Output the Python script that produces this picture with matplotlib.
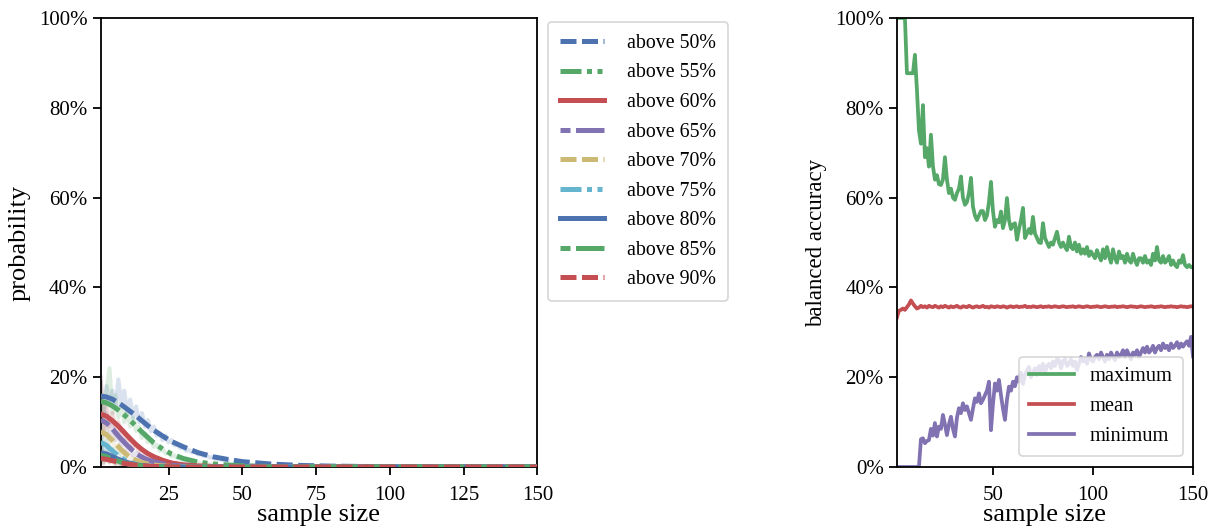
import numpy as np
import matplotlib
matplotlib.use('Agg')
from matplotlib import pyplot as plt
from matplotlib.ticker import PercentFormatter

plt.rcParams['font.family'] = ['Liberation Serif', 'DejaVu Serif']

# ---------------------------------------------------------------------------
# colours / labels
# ---------------------------------------------------------------------------
deep = ['#4C72B0', '#55A868', '#C44E52', '#8172B2', '#CCB974', '#64B5CD']
labels = ['above 50%', 'above 55%', 'above 60%', 'above 65%', 'above 70%',
          'above 75%', 'above 80%', 'above 85%', 'above 90%']

# ---------------------------------------------------------------------------
# left panel: smoothed probability curves (in %)
# ---------------------------------------------------------------------------
x_fit = [2, 4, 6, 8, 10, 12, 14, 16, 18, 20, 23, 26, 30, 35, 40, 45, 50,
         60, 70, 80, 100, 150]
fit_50 = [15.8, 15.6, 15.1, 14.3, 13.4, 12.4, 11.4, 10.3, 9.2, 8.2, 6.9, 5.7,
          4.5, 3.2, 2.3, 1.7, 1.2, 0.65, 0.35, 0.2, 0.06, 0.0]
fit_55 = [14.6, 14.3, 13.6, 12.7, 11.6, 10.4, 9.1, 7.8, 6.6, 5.4, 4.0, 2.9,
          1.9, 1.1, 0.7, 0.45, 0.3, 0.12, 0.05, 0.02, 0.0, 0.0]
fit_60 = [11.8, 11.3, 10.3, 9.1, 7.7, 6.3, 5.0, 3.9, 3.0, 2.3, 1.5, 0.9,
          0.5, 0.25, 0.12, 0.06, 0.03, 0.0, 0.0, 0.0, 0.0, 0.0]
fit_65 = [10.5, 9.8, 8.5, 6.9, 5.5, 4.2, 3.0, 2.2, 1.6, 1.2, 0.7, 0.4,
          0.2, 0.1, 0.05, 0.0, 0.0, 0.0, 0.0, 0.0, 0.0, 0.0]
fit_70 = [7.9, 7.2, 5.9, 4.5, 3.2, 2.2, 1.5, 1.0, 0.7, 0.45, 0.25, 0.14,
          0.07, 0.03, 0.0, 0.0, 0.0, 0.0, 0.0, 0.0, 0.0, 0.0]
fit_75 = [5.5, 4.8, 3.6, 2.5, 1.6, 1.0, 0.6, 0.35, 0.2, 0.12, 0.06, 0.03,
          0.0, 0.0, 0.0, 0.0, 0.0, 0.0, 0.0, 0.0, 0.0, 0.0]
fit_80 = [3.2, 2.9, 2.3, 1.7, 1.2, 0.8, 0.5, 0.3, 0.2, 0.12, 0.06, 0.03,
          0.0, 0.0, 0.0, 0.0, 0.0, 0.0, 0.0, 0.0, 0.0, 0.0]
fit_85 = [2.6, 2.3, 1.8, 1.3, 0.9, 0.6, 0.4, 0.25, 0.15, 0.1, 0.05, 0.02,
          0.0, 0.0, 0.0, 0.0, 0.0, 0.0, 0.0, 0.0, 0.0, 0.0]
fit_90 = [1.9, 1.7, 1.4, 1.1, 0.8, 0.6, 0.4, 0.3, 0.2, 0.13, 0.07, 0.04,
          0.0, 0.0, 0.0, 0.0, 0.0, 0.0, 0.0, 0.0, 0.0, 0.0]
fits = [fit_50, fit_55, fit_60, fit_65, fit_70, fit_75, fit_80, fit_85, fit_90]

# raw (noisy) probabilities, starting at sample size 2
raw_50 = [19, 12, 18, 14, 17, 13, 19.5, 14, 17, 12, 15, 11, 13.5, 10, 12, 9,
          10.5, 8, 9, 7, 7.5, 6, 7, 5.5, 6, 4.8, 5, 4.2, 4.5, 3.6, 3.8, 3.2,
          3.3, 2.8, 2.9, 2.4, 2.5, 2.1, 2.2, 1.8, 1.9, 1.6, 1.6, 1.4]
raw_55 = [16, 11, 17, 22, 12, 16, 11, 14, 10, 12.5, 9, 11, 8, 9, 6.5, 7.5,
          5.5, 6, 4.5, 5, 3.6, 4, 3, 3.2, 2.4, 2.6, 1.9, 2, 1.5, 1.6, 1.2,
          1.2, 0.9, 1.0, 0.7, 0.8, 0.6, 0.6, 0.5]
raw_60 = [20, 8, 14, 9, 12, 8, 10, 6.5, 8, 5.5, 6.5, 4.5, 5, 3.5, 4, 2.8, 3,
          2.2, 2.4, 1.7, 1.8, 1.3, 1.3, 1.0, 1.0, 0.7, 0.7, 0.5, 0.5]
raw_65 = [14, 7, 12, 7, 9.5, 6, 7.5, 4.5, 6, 3.5, 4.5, 2.5, 3.2, 2, 2.4, 1.5,
          1.7, 1.1, 1.2, 0.8, 0.8, 0.6, 0.6, 0.4]
raw_70 = [18, 5, 9, 5, 7, 3.5, 5, 2.5, 3.5, 1.8, 2.4, 1.3, 1.6, 0.9, 1.1, 0.6,
          0.7, 0.4, 0.5]
raw_75 = [9, 3, 6, 3, 4, 2, 3, 1.4, 2, 0.9, 1.2, 0.6, 0.7, 0.4]
raw_80 = [6, 1.5, 4, 2, 2.6, 1.2, 1.8, 0.8, 1.2, 0.5, 0.8, 0.4]
raw_85 = [6, 1, 3, 1.2, 2, 0.8, 1.3, 0.5, 0.8, 0.3]
raw_90 = [4, 0.8, 2.4, 1, 1.6, 0.6, 1.0, 0.4, 0.7, 0.3]
raws = [raw_50, raw_55, raw_60, raw_65, raw_70, raw_75, raw_80, raw_85, raw_90]

# ---------------------------------------------------------------------------
# right panel: balanced accuracy (in %), sample size 2..150
# ---------------------------------------------------------------------------
sizes = list(range(2, 151))
acc_max = [100, 100, 100, 100, 100, 87.7, 87.7, 87.7, 87.7, 91.8,
           84, 75, 72, 80.6, 69, 71, 66.9, 74, 67, 64,
           65, 63, 62.8, 64, 69, 64, 61, 62, 60, 59.5,
           61, 62, 64.7, 60, 58.4, 59, 61, 64.4, 58, 56,
           55, 56, 57, 57, 55, 56, 59, 63.5, 57, 53.5,
           55, 54.5, 56.9, 53.2, 55, 59.9, 55, 53, 54, 54.3,
           50.6, 53, 55, 57.7, 51, 52, 53, 52, 55.7, 52,
           51, 50, 49.9, 54.3, 51, 50, 49, 50, 49.5, 51,
           52.4, 50, 49, 50, 49, 48.3, 51.3, 49, 48.5, 50,
           48, 49.5, 47.5, 48.5, 47.5, 49, 47, 48, 47.2, 46.5,
           48.3, 47, 46, 48.5, 46.5, 49, 47, 45.5, 48.5, 46.5,
           45.5, 48, 46.5, 47, 45.5, 47.5, 46, 45.5, 47.5, 46,
           45, 46.5, 46.5, 45.5, 47, 45.5, 46, 45, 47.5, 46,
           49, 46, 45.5, 47, 45.5, 46, 47, 45, 46, 45,
           44.5, 46, 45.5, 47.2, 45, 44.5, 45, 44.5, 44.5]
acc_mean = [33.3, 34.8, 35.0, 35.3, 35.0, 35.6, 36.2, 37.1, 36.4, 35.8,
            35.3, 35.5, 35.9, 35.6, 35.8, 35.5, 35.9, 35.7, 35.6, 35.9,
            35.7, 35.5, 35.8, 35.6, 35.9, 35.7, 35.5, 35.8, 35.6, 35.7,
            35.9, 35.6, 35.5, 35.8, 35.7, 35.6, 35.9, 35.7, 35.5, 35.7,
            35.8, 35.6, 35.7, 35.9, 35.6, 35.7, 35.5, 35.8, 35.7, 35.6,
            35.8, 35.7, 35.6, 35.8, 35.7, 35.5, 35.7, 35.8, 35.6, 35.7,
            35.8, 35.6, 35.7, 35.7, 35.9, 35.6, 35.7, 35.6, 35.8, 35.7,
            35.6, 35.7, 35.8, 35.6, 35.7, 35.7, 35.8, 35.6, 35.7, 35.8,
            35.7, 35.6, 35.7, 35.8, 35.7, 35.6, 35.7, 35.7, 35.8, 35.6,
            35.7, 35.8, 35.7, 35.6, 35.7, 35.8, 35.7, 35.6, 35.7, 35.7,
            35.8, 35.7, 35.6, 35.7, 35.8, 35.7, 35.6, 35.7, 35.7, 35.8,
            35.6, 35.7, 35.7, 35.8, 35.7, 35.6, 35.7, 35.8, 35.7, 35.7,
            35.6, 35.7, 35.8, 35.7, 35.6, 35.7, 35.7, 35.8, 35.7, 35.6,
            35.7, 35.7, 35.8, 35.7, 35.6, 35.7, 35.7, 35.8, 35.7, 35.7,
            35.6, 35.7, 35.8, 35.7, 35.7, 35.6, 35.7, 35.8, 35.7]
acc_min = [0, 0, 0, 0, 0, 0, 0, 0, 0, 0,
           0, 0, 6.2, 6.4, 5.3, 5.8, 6.0, 8.5, 7.0, 9.8,
           6.8, 9.0, 8.5, 11.6, 9.5, 7.1, 9.5, 11.2, 8.5, 6.8,
           11.0, 13.1, 12.0, 14.2, 12.7, 13.5, 12.0, 10.5, 13.0, 15.3,
           14.5, 16.4, 14.2, 15.0, 16.0, 17.0, 19.0, 8.2, 14.0, 18.6,
           17.0, 19.4, 16.0, 13.0, 10.5, 15.0, 17.9, 17.0, 19.0, 18.0,
           20.0, 19.0, 21.0, 18.5, 20.5, 21.5, 22.3, 20.0, 21.0, 22.0,
           20.5, 22.5, 21.5, 23.0, 21.0, 22.5, 23.0, 22.0, 23.5, 22.5,
           24.0, 23.8, 22.0, 23.5, 24.0, 22.5, 23.0, 24.0, 22.5, 23.5,
           21.6, 23.0, 24.5, 23.5, 24.0, 23.0, 25.3, 24.0, 23.5, 24.5,
           25.0, 24.0, 25.5, 24.5, 23.5, 25.0, 24.0, 25.5, 24.6, 23.8,
           25.5, 24.5, 25.0, 26.0, 24.5, 26.0, 25.0, 24.0, 25.5, 25.0,
           26.0, 24.5, 25.5, 26.5, 25.5, 26.8, 25.5, 26.0, 27.0, 25.5,
           26.5, 27.0, 26.0, 27.5, 26.5, 27.0, 26.0, 27.5, 26.5, 27.0,
           27.8, 26.5, 27.5, 26.8, 27.5, 28.0, 27.0, 29.0, 24.6]

# line styles cycle every 4 curves (dash units scaled by line width)
styles = [(0, (3.2, 1.1)),
          (0, (4.2, 1.1, 1.0, 1.1, 1.0, 1.1)),
          '-',
          (4, (6.0, 1.1))]

fig = plt.figure(figsize=(12.17, 5.31), dpi=100)
ax1 = fig.add_axes([0.0827, 0.1205, 0.3588, 0.8456])
ax2 = fig.add_axes([0.7370, 0.1205, 0.2433, 0.8456])

for i in range(len(fits)):
    c = deep[i % 6]
    ax1.plot(range(2, 2 + len(raws[i])), raws[i], color=c, alpha=0.2, lw=3,
             zorder=1)
for i in range(len(fits)):
    c = deep[i % 6]
    ax1.plot(x_fit, fits[i], color=c, lw=3.6, ls=styles[i % 4],
             label=labels[i], zorder=3)

ax2.plot(sizes, acc_max, color=deep[1], lw=2.7, label='maximum')
ax2.plot(sizes, acc_mean, color=deep[2], lw=2.7, label='mean')
ax2.plot(sizes, acc_min, color=deep[3], lw=2.7, label='minimum')

for ax in (ax1, ax2):
    ax.set_xlim(2, 150)
    ax.set_ylim(0, 100)
    ax.set_yticks([0, 20, 40, 60, 80, 100])
    ax.yaxis.set_major_formatter(PercentFormatter(decimals=0))
    ax.tick_params(direction='out', length=6, width=1.3, labelsize=15,
                   colors='black')
    ax.tick_params(axis='x', pad=8)
    for s in ax.spines.values():
        s.set_linewidth(1.3)
    ax.set_xlabel('sample size', fontsize=19, labelpad=-1)

ax1.set_xticks([25, 50, 75, 100, 125, 150])
ax2.set_xticks([50, 100, 150])
ax1.set_ylabel('probability', fontsize=19, labelpad=6)
ax2.set_ylabel('balanced accuracy', fontsize=16.5, labelpad=6)

leg1 = ax1.legend(loc='upper left', bbox_to_anchor=(1.025, 0.991),
                  borderaxespad=0, fontsize=14.3, handlelength=2.2,
                  handletextpad=1.15, labelspacing=0.53, borderpad=0.6,
                  fancybox=True)
leg1.get_frame().set_edgecolor('#cccccc')
leg1.get_frame().set_linewidth(1.2)

leg2 = ax2.legend(loc='lower right', bbox_to_anchor=(0.966, 0.0245),
                  borderaxespad=0, fontsize=14.8, handlelength=2.2,
                  handletextpad=0.75, labelspacing=0.5, borderpad=0.5,
                  fancybox=True)
leg2.get_frame().set_edgecolor('#cccccc')
leg2.get_frame().set_linewidth(1.2)

fig.savefig('out.png', dpi=100)
